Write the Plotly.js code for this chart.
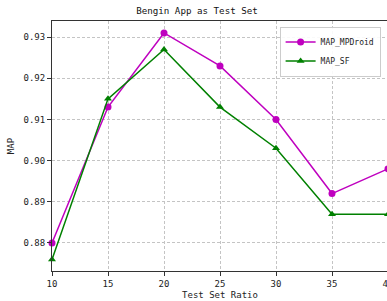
<!DOCTYPE html>
<html><head><meta charset="utf-8">
<script src="https://cdn.plot.ly/plotly-3.0.1.min.js"></script>
<style>html,body{margin:0;padding:0;overflow:hidden;width:387px;height:301px;background:#fff}</style>
</head><body><div id="chart"></div>
<script>
const ratios = [10, 15, 20, 25, 30, 35, 40];
const mapMPDroid = [0.880, 0.913, 0.931, 0.923, 0.910, 0.892, 0.898];
const mapSF = [0.876, 0.915, 0.927, 0.913, 0.903, 0.887, 0.887];
const yTicks = [0.88, 0.89, 0.90, 0.91, 0.92, 0.93];
const yTickText = ['0.88', '0.89', '0.90', '0.91', '0.92', '0.93'];
const xTicks = [10, 15, 20, 25, 30, 35, 40];

const font = {family: 'DejaVu Sans Mono, monospace', size: 9, color: '#222'};
const traces = [
  {x: ratios, y: mapMPDroid, name: 'MAP_MPDroid', mode: 'lines+markers',
   line: {color: '#bf00bf', width: 1.5}, marker: {symbol: 'circle', size: 7, color: '#bf00bf'}, cliponaxis: false},
  {x: ratios, y: mapSF, name: 'MAP_SF', mode: 'lines+markers',
   line: {color: '#008000', width: 1.5}, marker: {symbol: 'triangle-up', size: 7, color: '#008000'}, cliponaxis: false}
];
const layout = {
  width: 394, height: 301,
  margin: {l: 52, r: 6, t: 21, b: 30},
  paper_bgcolor: '#fff', plot_bgcolor: '#fff',
  font: font,
  title: {text: 'Bengin App as Test Set', font: {family: font.family, size: 9.2, color: '#111'}, x: 0.5, xanchor: 'center', y: 0.965, yanchor: 'middle'},
  xaxis: {range: [10, 40], tickvals: xTicks, ticktext: xTicks.map(String), ticks: 'outside', ticklen: 4, tickcolor: '#333',
    showline: true, linecolor: '#333', linewidth: 1, mirror: true, showgrid: true, gridcolor: '#c4c4c4', griddash: '3px,2px', gridwidth: 1,
    zeroline: false, tickfont: font,
    title: {text: 'Test Set Ratio', font: font, standoff: 3}},
  yaxis: {range: [0.8732, 0.9339], tickvals: yTicks, ticktext: yTickText, ticks: 'outside', ticklen: 4, tickcolor: '#333',
    showline: true, linecolor: '#333', linewidth: 1, mirror: true, showgrid: true, gridcolor: '#c4c4c4', griddash: '3px,2px', gridwidth: 1,
    zeroline: false, tickfont: font,
    title: {text: 'MAP', font: font, standoff: 7}},
  legend: {x: 0.978, xanchor: 'right', y: 0.978, yanchor: 'top', bordercolor: '#ccc', borderwidth: 1, bgcolor: 'rgba(255,255,255,0.9)',
    font: {family: font.family, size: 8, color: '#222'}, tracegroupgap: 0, itemwidth: 30},
  showlegend: true
};
Plotly.newPlot('chart', traces, layout, {displayModeBar: false, staticPlot: true});
</script></body></html>
